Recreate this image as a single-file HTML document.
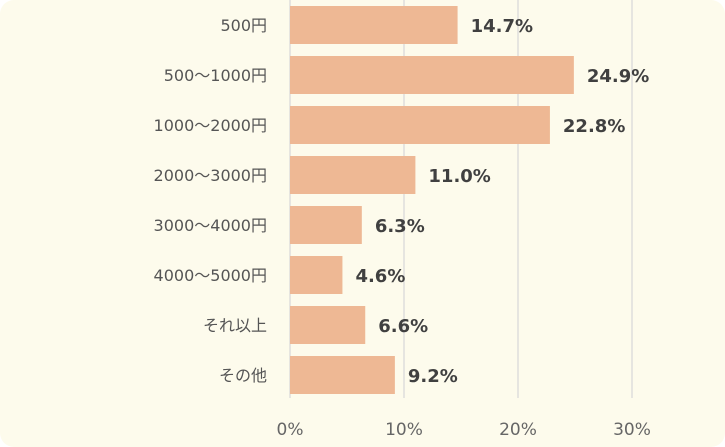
<!DOCTYPE html>
<html><head><meta charset="utf-8"><style>
body{margin:0;background:#fff;}
#wrap{width:725px;height:447px;background:#fdfbec;border-radius:14px;overflow:hidden;position:relative}
svg text{font-family:"DejaVu Sans","Noto Sans CJK JP",sans-serif}
</style></head><body>
<div id="wrap">
<svg id="chart" width="725" height="447"></svg>
</div>
<script>
const categories=["500円","500〜1000円","1000〜2000円","2000〜3000円","3000〜4000円","4000〜5000円","それ以上","その他"];
const values=[14.7,24.9,22.8,11.0,6.3,4.6,6.6,9.2];
const ticks=[0,10,20,30];
const NS="http://www.w3.org/2000/svg";
const svg=document.getElementById("chart");
const x0=290,pxPer=11.4,top0=1,band=50,barH=38;
const xs=v=>x0+v*pxPer;
const yc=i=>top0+band*i+band/2-6;
function mk(t,a){const e=document.createElementNS(NS,t);for(const k in a)e.setAttribute(k,a[k]);svg.appendChild(e);return e;}
ticks.forEach(t=>{
 const g=mk("line",{x1:xs(t),x2:xs(t),y1:0,y2:398,stroke:"#d9d9d9","stroke-width":1.3});
 
 
 const l=mk("text",{x:xs(t),y:435,"text-anchor":"middle","font-size":17,fill:"#666"});
 l.textContent=t+"%";
 
 
});
categories.forEach((c,i)=>{
 const cy=yc(i)+5;
 const r=mk("rect",{x:x0,y:cy-barH/2,width:xs(values[i])-x0,height:barH,fill:"#eeb894"});
 
 
 const lab=mk("text",{x:267,y:cy+6,"text-anchor":"end","font-size":16,fill:"#555"});
 lab.textContent=c;
 
 
 const v=mk("text",{x:xs(values[i])+13,y:cy+7,"font-size":18,"font-weight":"bold",fill:"#404040"});
 v.textContent=values[i].toFixed(1)+"%";
 
 
});
</script>
</body></html>
